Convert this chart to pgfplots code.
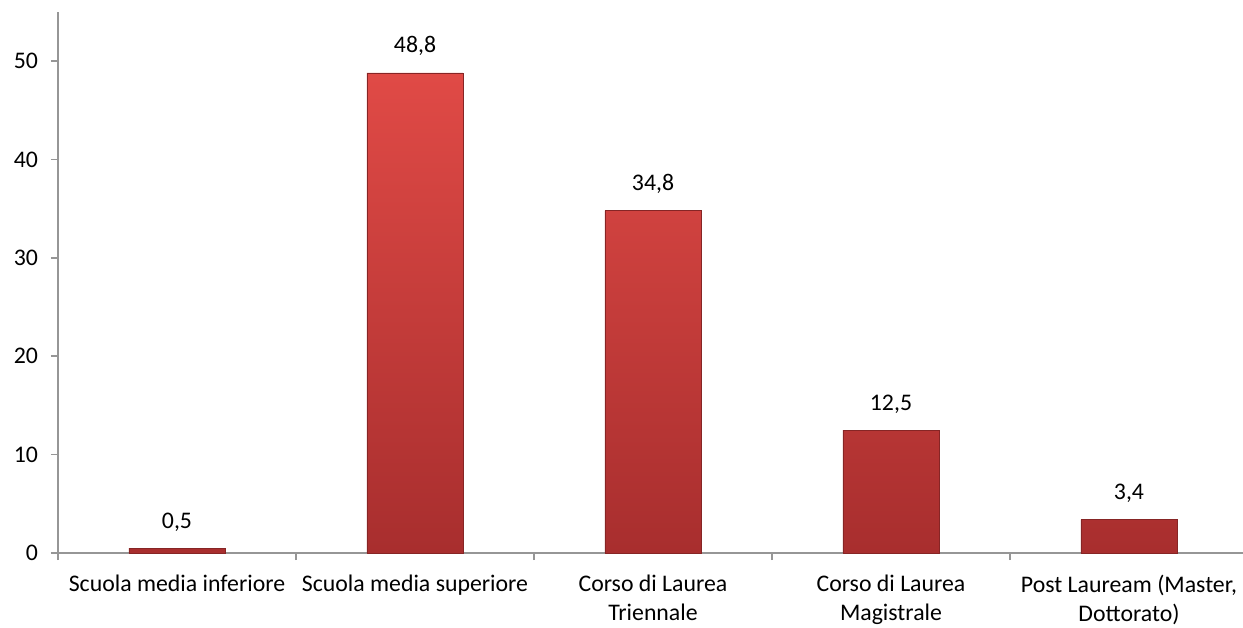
\documentclass[border=0pt]{standalone}
\usepackage{pgfplots}
\pgfplotsset{compat=1.18}
\usepackage{fontspec}
\setmainfont{Carlito}
\definecolor{axgray}{RGB}{150,150,150}
\definecolor{bartop}{RGB}{224,74,70}
\definecolor{barbot}{RGB}{168,46,46}
\begin{document}
\begin{tikzpicture}
\path[use as bounding box] (-29pt,-37pt) rectangle (592.5pt,276.5pt);
\begin{axis}[
  at={(0,0)}, anchor=south west,
  scale only axis, width=595pt, height=270.5pt,
  xmin=-0.5, xmax=4.5, ymin=0, ymax=55,
  axis x line=bottom, axis y line=left,
  axis line style={axgray, line width=0.8pt, -},
  tick style={axgray, line width=0.8pt},
  tick align=outside,
  ytick={0,10,20,30,40,50},
  major tick length=3.5pt,
  xtick={0,1,2,3,4},
  major x tick style={draw=none},
  minor xtick={-0.5,0.5,1.5,2.5,3.5,4.5},
  minor x tick style={draw=axgray, line width=0.8pt},
  minor tick length=3.5pt,
  xticklabels={{Scuola media inferiore},{Scuola media superiore},{Corso di Laurea\\Triennale},{Corso di Laurea\\Magistrale},{Post Lauream (Master,\\Dottorato)}},
  xticklabel style={align=center, font=\fontsize{11.9}{14.5}\selectfont, yshift=-4pt},
  yticklabel style={font=\fontsize{11.9}{14.5}\selectfont, xshift=-3pt},
  /pgf/number format/assume math mode=true,
  ticklabel style={text=black},
  ybar, bar width=48pt,
  nodes near coords,
  nodes near coords style={font=\fontsize{11.9}{14.5}\selectfont, text=black, yshift=5pt, /pgf/number format/.cd, use comma, fixed, fixed zerofill, precision=1, assume math mode=true},
  clip=false,
]
\addplot[draw=barbot!80!black, line width=0.3pt, top color=bartop, bottom color=barbot]
  coordinates {(0,0.5) (1,48.8) (2,34.8) (3,12.5) (4,3.4)};
\end{axis}
\end{tikzpicture}
\end{document}
